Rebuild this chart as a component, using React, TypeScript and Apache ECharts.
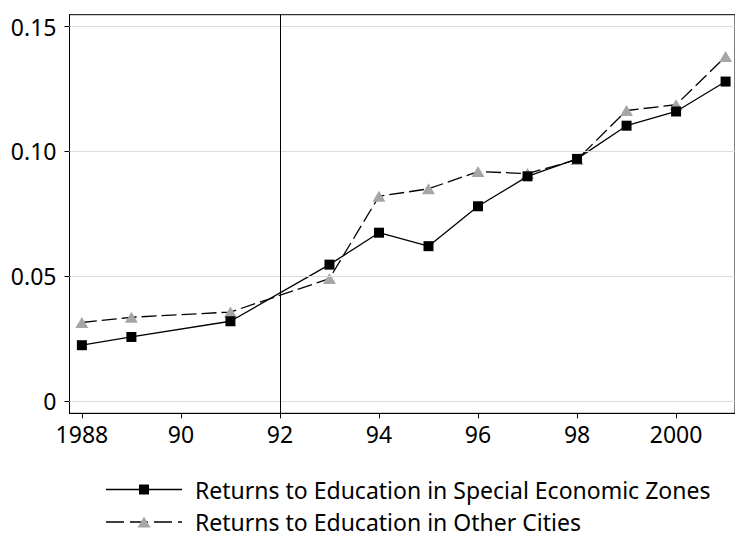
import React, { useEffect, useRef } from "react";
import * as echarts from "echarts";

const years = [1988, 1989, 1991, 1993, 1994, 1995, 1996, 1997, 1998, 1999, 2000, 2001];
const sezValues = [0.0223, 0.0256, 0.0319, 0.0546, 0.0674, 0.062, 0.078, 0.09, 0.097, 0.1103, 0.116, 0.128];
const otherValues = [0.0314, 0.0335, 0.0356, 0.049, 0.082, 0.085, 0.0919, 0.0911, 0.0967, 0.1164, 0.1187, 0.138];
const xTicks = [1988, 1990, 1992, 1994, 1996, 1998, 2000];
const yTicks = [0, 0.05, 0.1, 0.15];
const reformYear = 1992;
const sezName = "Returns to Education in Special Economic Zones";
const otherName = "Returns to Education in Other Cities";

const FONT = "'Noto Sans', sans-serif";
const FS = 23;
const TRI_GRAY = "#a6a6a6";

export default function App() {
  const ref = useRef<HTMLDivElement>(null);
  useEffect(() => {
    if (!ref.current) return;
    const chart = echarts.init(ref.current, null, { renderer: "svg" });
    const fmtX = (v: number) => (v === 1988 || v === 2000 ? String(v) : String(v).slice(2));
    const fmtY = (v: number) => (v === 0 ? "0" : v.toFixed(2));

    const legendRow = (y: number, name: string, dashed: boolean, marker: any) => [
      {
        type: "line",
        shape: { x1: 106, y1: y, x2: 182, y2: y },
        style: { stroke: "#000", lineWidth: 1.3, lineDash: dashed ? [18, 6] : null },
        silent: true,
      },
      marker,
      {
        type: "text",
        x: 195,
        y: y,
        style: { text: name, fill: "#000", fontSize: FS, fontFamily: FONT, verticalAlign: "middle", align: "left" },
        silent: true,
      },
    ];

    chart.setOption({
      animation: false,
      backgroundColor: "#fff",
      textStyle: { fontFamily: FONT },
      grid: { left: 69.5, right: -1, top: 14.7, bottom: 124.7, show: true, borderColor: "#000", borderWidth: 1, backgroundColor: "transparent" },
      graphic: [
        ...legendRow(489.5, sezName, false, {
          type: "rect",
          shape: { x: 139, y: 484.5, width: 10, height: 10 },
          style: { fill: "#000" },
          silent: true,
        }),
        ...legendRow(522, otherName, true, {
          type: "polygon",
          shape: { points: [[144, 516.5], [150.5, 527.5], [137.5, 527.5]] },
          style: { fill: TRI_GRAY },
          silent: true,
        }),
      ],
      xAxis: {
        type: "value",
        min: 1987.75,
        max: 2001.19,
        axisLine: { show: true, onZero: false, lineStyle: { color: "#000", width: 1 } },
        axisTick: { show: true, length: 5, customValues: xTicks, lineStyle: { color: "#000" } },
        axisLabel: { customValues: xTicks, formatter: fmtX, fontSize: FS, color: "#000", fontFamily: FONT, margin: 9 },
        splitLine: { show: false },
      },
      yAxis: {
        type: "value",
        min: -0.005,
        max: 0.1548,
        axisLine: { show: true, lineStyle: { color: "#000", width: 1 } },
        axisTick: { show: true, length: 5, customValues: yTicks, lineStyle: { color: "#000" } },
        axisLabel: { customValues: yTicks, formatter: fmtY, fontSize: FS, color: "#000", fontFamily: FONT, margin: 13 },
        splitLine: { show: false },
      },
      series: [
        {
          name: "grid",
          type: "line",
          data: [],
          silent: true,
          z: 1,
          markLine: {
            silent: true,
            symbol: "none",
            label: { show: false },
            lineStyle: { color: "#dcdcdc", width: 1, type: "solid" },
            data: yTicks.map((v) => ({ yAxis: v })),
          },
        },
        {
          name: sezName,
          type: "line",
          z: 3,
          data: years.map((y, i) => [y, sezValues[i]]),
          symbol: "rect",
          symbolSize: 10,
          itemStyle: { color: "#000" },
          lineStyle: { color: "#000", width: 1.3, type: "solid" },
          markLine: {
            silent: true,
            symbol: "none",
            label: { show: false },
            lineStyle: { color: "#000", width: 1, type: "solid" },
            data: [{ xAxis: reformYear }],
          },
        },
        {
          name: otherName,
          type: "line",
          z: 2,
          data: years.map((y, i) => [y, otherValues[i]]),
          symbol: "triangle",
          symbolSize: [13, 11],
          itemStyle: { color: TRI_GRAY },
          lineStyle: { color: "#000", width: 1.3, type: [15, 5] },
        },
      ],
    });
    return () => chart.dispose();
  }, []);
  return <div ref={ref} style={{ width: 735, height: 538, position: "absolute", left: 0, top: 0 }} />;
}
